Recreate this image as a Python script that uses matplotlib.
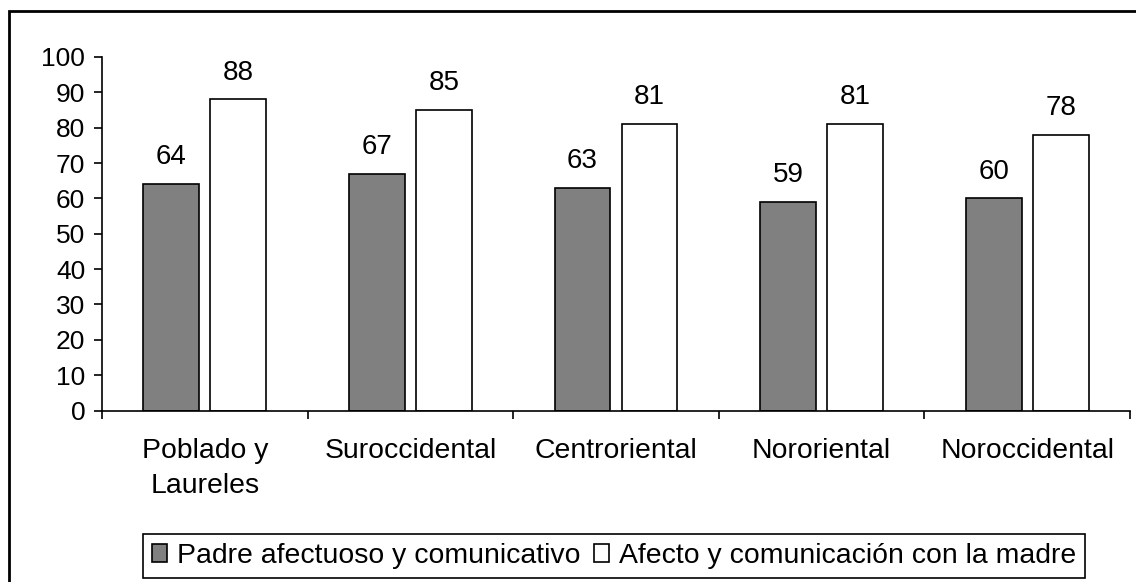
import matplotlib
matplotlib.use('Agg')
import matplotlib.pyplot as plt
import matplotlib.patches as mpatches
import numpy as np

plt.rcParams['font.family'] = ['Liberation Sans', 'DejaVu Sans']
plt.rcParams['font.size'] = 19

categories = ['Poblado y\nLaureles', 'Suroccidental', 'Centroriental',
              'Nororiental', 'Noroccidental']
padre = [64, 67, 63, 59, 60]
madre = [88, 85, 81, 81, 78]
series_names = ['Padre afectuoso y comunicativo',
                'Afecto y comunicación con la madre']

W, H = 1136, 582
fig = plt.figure(figsize=(W / 100, H / 100), dpi=100)
ax = fig.add_axes([102 / W, 1 - 410.5 / H, 1028 / W, 353.5 / H])

x = np.arange(len(categories)) + 0.5
bw = 0.272
off = 0.163
b1 = ax.bar(x - off, padre, bw, color='#808080', edgecolor='black',
            linewidth=1.2, label=series_names[0])
b2 = ax.bar(x + off, madre, bw, color='white', edgecolor='black',
            linewidth=1.2, label=series_names[1])

for bars, vals in ((b1, padre), (b2, madre)):
    for b, v in zip(bars, vals):
        ax.annotate(str(v), (b.get_x() + b.get_width() / 2, v),
                    xytext=(0, 10), textcoords='offset points',
                    ha='center', va='bottom', fontsize=20)

ax.set_xlim(0, len(categories))
ax.set_ylim(0, 100)
ax.set_yticks(range(0, 101, 10))
ax.set_xticks(np.arange(len(categories) + 1))
ax.set_xticklabels([])
ax.set_xticks(x, minor=True)
ax.set_xticklabels(categories, minor=True, fontsize=20.4, linespacing=1.45)
ax.tick_params(axis='x', which='minor', length=0, pad=20)
ax.tick_params(axis='x', which='major', direction='out', length=6, width=1.2)
ax.tick_params(axis='y', direction='out', length=6, width=1.2, pad=6)
for lab in ax.get_xticklabels(minor=True):
    lab.set_verticalalignment('top')
    lab.set_multialignment('center')

for s in ('top', 'right'):
    ax.spines[s].set_visible(False)
for s in ('left', 'bottom'):
    ax.spines[s].set_linewidth(1.2)

leg = fig.legend(handles=[b1, b2], loc='center',
                 bbox_to_anchor=(614 / W, 1 - 556 / H), ncol=2,
                 prop={'size': 20.4},
                 handlelength=0.55, handleheight=0.55, handletextpad=0.35,
                 columnspacing=0.45, borderpad=0.32, borderaxespad=0,
                 fancybox=False, edgecolor='black', framealpha=1)
leg.get_frame().set_linewidth(1.2)

border = mpatches.Rectangle((9 / W, -0.1), 1.2, 1 - 11 / H + 0.1,
                            transform=fig.transFigure, fill=False,
                            edgecolor='black', linewidth=2)
fig.patches.append(border)

fig.savefig('out.png', dpi=100, facecolor='white')
